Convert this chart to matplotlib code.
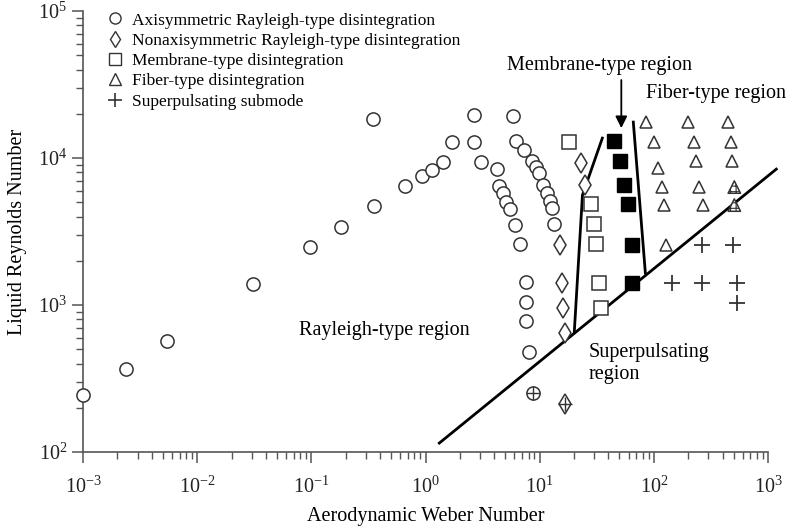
import matplotlib
matplotlib.use("Agg")
import matplotlib.pyplot as plt
from matplotlib.lines import Line2D

plt.rcParams['font.family'] = ['Liberation Serif', 'DejaVu Serif']
plt.rcParams['mathtext.fontset'] = 'custom'
plt.rcParams['mathtext.rm'] = 'Liberation Serif'
plt.rcParams['mathtext.it'] = 'Liberation Serif:italic'
plt.rcParams['hatch.linewidth'] = 0.8

# axisymmetric Rayleigh-type (circles)
circ_x = [0.001, 0.0024, 0.0054, 0.031, 0.098, 0.18, 0.356, 0.35, 0.667, 0.94,
          1.15, 1.41, 1.72, 2.68, 2.68, 3.09, 4.27, 4.36, 4.81, 5.12, 5.54,
          6.12, 6.77, 5.79, 6.23, 7.35, 8.63, 9.35, 9.93, 10.6, 11.7, 12.2,
          12.9, 13.4, 7.66, 7.66, 7.66, 8.13]
circ_y = [244, 367, 569, 1390, 2480, 3400, 4710, 18400, 6460, 7550,
          8280, 9400, 12850, 19630, 12850, 9400, 8410, 6460, 5780, 5020, 4500,
          3500, 2600, 19300, 13060, 11320, 9550, 8690, 7900, 6550, 5780, 5090,
          4570, 3560, 1430, 1050, 780, 480]
# nonaxisymmetric Rayleigh-type (diamonds)
diam_x = [23.2, 25.1, 15.2, 15.8, 16.1, 16.8]
diam_y = [9250, 6550, 2560, 1410, 955, 645]
# membrane-type (open squares)
sq_x = [17.9, 28.4, 30.1, 31.4, 33.4, 34.7]
sq_y = [12850, 4860, 3560, 2600, 1410, 955]
# membrane-type region, filled squares
fsq_x = [45.1, 50.9, 55.2, 59.8, 64.9, 64.9]
fsq_y = [13060, 9550, 6550, 4860, 2560, 1410]
# fiber-type (triangles)
tri_x = [85.9, 200, 449, 101, 226, 476, 109, 235, 486, 119, 250, 124, 271, 129]
tri_y = [17580, 17580, 17580, 12850, 12850, 12850, 8550, 9550, 9550,
         6350, 6350, 4790, 4790, 2560]
htri_x = [507, 507]
htri_y = [6350, 4790]
# superpulsating submode (plus)
plus_x = [265, 497, 145, 265, 530, 530]
plus_y = [2560, 2560, 1410, 1410, 1410, 1030]
# mixed points below the boundary
cplus_x, cplus_y = [8.8], [252]
dplus_x, dplus_y = [16.8], [212]

# region boundaries
bound_x = [1.32, 1182]
bound_y = [115, 8410]
memb_left_x = [35.4, 23.7, 20.1]
memb_left_y = [13680, 5600, 655]
memb_right_x = [66.1, 84.3]
memb_right_y = [17580, 1652]

xticks = [1e-3, 1e-2, 1e-1, 1e0, 1e1, 1e2, 1e3]
yticks = [1e2, 1e3, 1e4, 1e5]

legend_labels = ['Axisymmetric Rayleigh-type disintegration',
                 'Nonaxisymmetric Rayleigh-type disintegration',
                 'Membrane-type disintegration',
                 'Fiber-type disintegration',
                 'Superpulsating submode']

fig = plt.figure(figsize=(7.97, 5.28), dpi=100)
ax = fig.add_axes([0.1042, 0.1439, 0.8594, 0.835])
ax.set_xscale('log')
ax.set_yscale('log')
ax.set_xticks(xticks)
ax.set_yticks(yticks)
ax.set_xlim(1e-3, 1e3)
ax.set_ylim(1e2, 1e5)

lw = 2.0
ax.plot(bound_x, bound_y, color='black', lw=lw, clip_on=False, zorder=2)
ax.plot(memb_left_x, memb_left_y, color='black', lw=lw, zorder=2)
ax.plot(memb_right_x, memb_right_y, color='black', lw=lw, zorder=2)
ax.annotate('', xy=(51.9, 16000), xytext=(51.9, 34000),
            arrowprops=dict(arrowstyle='-|>,head_length=0.7,head_width=0.35',
                            color='black', lw=1.3, shrinkA=0, shrinkB=0))

mk = dict(mfc='white', mec='#333333', mew=1.1, ls='none', zorder=3)
ax.plot(circ_x, circ_y, marker='o', ms=9.5, clip_on=False, **mk)
ax.plot(diam_x, diam_y, marker='d', ms=10, **mk)
ax.plot(sq_x, sq_y, marker='s', ms=9.5, **mk)
ax.plot(fsq_x, fsq_y, marker='s', ms=9.5, mfc='black', mec='black',
        ls='none', zorder=3)
ax.plot(tri_x, tri_y, marker='^', ms=9, **mk)
ax.scatter(htri_x, htri_y, marker='^', s=80, facecolor='white',
           edgecolor='#333333', hatch='+++', lw=1.1, zorder=3)
ax.plot(plus_x, plus_y, marker='+', ms=11, mew=1.3, color='#333333',
        ls='none', zorder=3)
ax.plot(cplus_x, cplus_y, marker='o', ms=9.5, **mk)
ax.plot(cplus_x, cplus_y, marker='+', ms=9.5, mew=1.0, color='#333333',
        ls='none', zorder=4)
ax.plot(dplus_x, dplus_y, marker='d', ms=10, **mk)
ax.plot(dplus_x, dplus_y, marker='+', ms=10, mew=1.0, color='#333333',
        ls='none', zorder=4)

fs = 14.5
ax.text(33.4, 43000, 'Membrane-type region', fontsize=fs, ha='center', va='center')
ax.text(85.9, 27700, 'Fiber-type region', fontsize=fs, ha='left', va='center')
ax.text(0.436, 676, 'Rayleigh-type region', fontsize=fs, ha='center', va='center')
ax.text(26.7, 400, 'Superpulsating\nregion', fontsize=fs, ha='left', va='center',
        linespacing=1.2)

handles = [
    Line2D([], [], marker='o', ms=8, mfc='white', mec='#333333', ls='none'),
    Line2D([], [], marker='d', ms=8, mfc='white', mec='#333333', ls='none'),
    Line2D([], [], marker='s', ms=8, mfc='white', mec='#333333', ls='none'),
    Line2D([], [], marker='^', ms=8, mfc='white', mec='#333333', ls='none'),
    Line2D([], [], marker='+', ms=10, mew=1.2, color='#333333', ls='none'),
]
ax.legend(handles, legend_labels, loc='upper left', bbox_to_anchor=(0.026, 1.013),
          frameon=False, fontsize=12.5, handlelength=0.8, handletextpad=0.6,
          labelspacing=0.24, borderaxespad=0.0)

ax.set_xlabel('Aerodynamic Weber Number', fontsize=fs, labelpad=6)
ax.set_ylabel('Liquid Reynolds Number', fontsize=fs, labelpad=8)

for side in ['top', 'right']:
    ax.spines[side].set_visible(False)
for side in ['left', 'bottom']:
    ax.spines[side].set_color('#555555')
    ax.spines[side].set_linewidth(1.2)
ax.tick_params(which='major', direction='out', length=8, width=1.1,
               colors='#555555', labelcolor='#222222', labelsize=fs)
ax.tick_params(which='minor', direction='out', length=5, width=1.0,
               colors='#555555', labelbottom=False, labelleft=False)
ax.tick_params(axis='x', which='major', pad=10)

fig.savefig('out.png', dpi=100)
